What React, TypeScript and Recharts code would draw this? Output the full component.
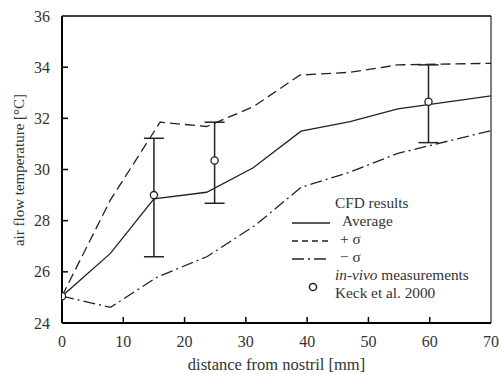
import React from "react";
import { ComposedChart, Line, Scatter, XAxis, YAxis, ErrorBar, ReferenceLine } from "recharts";

const avgX = [0, 7.9, 15, 23.6, 31.2, 39, 47, 54.8, 70];
const avgY = [25.05, 26.72, 28.85, 29.11, 30.07, 31.5, 31.87, 32.37, 32.88];

const upX = [0, 7.9, 16, 23.6, 31.2, 38.8, 47, 54.8, 70];
const upY = [25.05, 28.81, 31.85, 31.68, 32.45, 33.69, 33.8, 34.09, 34.15];

const loX = [0, 7.9, 15.5, 23.7, 31.6, 39, 47, 54.8, 70];
const loY = [25.05, 24.61, 25.79, 26.6, 27.83, 29.3, 29.9, 30.63, 31.52];

const measX = [0, 15, 24.9, 59.8];
const measY = [25.05, 29.0, 30.35, 32.65];
const measLow = [25.05, 26.59, 28.68, 31.05];
const measHigh = [25.05, 31.22, 31.85, 34.09];

const xTicks = [0, 10, 20, 30, 40, 50, 60, 70];
const yTicks = [24, 26, 28, 30, 32, 34, 36];

const FONT = '"Liberation Serif", "Times New Roman", Times, "DejaVu Serif", serif';
const INK = "#222";

const toPts = (xs: number[], ys: number[]) => xs.map((x, i) => ({ x, y: ys[i] }));
const avgData = toPts(avgX, avgY);
const upData = toPts(upX, upY);
const loData = toPts(loX, loY);
const measData = measX.map((x, i) => ({ x, y: measY[i], err: [measY[i] - measLow[i], measHigh[i] - measY[i]] }));
const measOrigin = measData.filter((d) => d.err[0] === 0 && d.err[1] === 0);
const measBars = measData.filter((d) => !(d.err[0] === 0 && d.err[1] === 0));

const txt = (size: number) => ({ fontFamily: FONT, fontSize: size, fill: "#333" });

const XTick = (props: any) => {
  const { x, y, payload } = props;
  const v = payload.value;
  const inner = v !== 0 && v !== 70;
  return (
    <g>
      {inner && <line x1={x} x2={x} y1={y} y2={y - 6} stroke="#000" strokeWidth={1.5} />}
      <text x={x} y={y + 24} textAnchor="middle" style={txt(16)}>
        {v}
      </text>
    </g>
  );
};

const YTick = (props: any) => {
  const { x, y, payload } = props;
  const v = payload.value;
  const inner = v !== 24 && v !== 36;
  return (
    <g>
      {inner && <line x1={x} x2={x + 6} y1={y} y2={y} stroke="#000" strokeWidth={1.5} />}
      <text x={x - 12} y={y + 5.5} textAnchor="end" style={txt(16)}>
        {v}
      </text>
    </g>
  );
};

const Circle = (props: any) => {
  const { cx, cy } = props;
  return <circle cx={cx} cy={cy} r={3.6} fill="#fff" stroke={INK} strokeWidth={1.3} />;
};

const YLabel = (props: any) => {
  const vb = props.viewBox || {};
  const cx = 19;
  const cy = 170;
  return (
    <text x={cx} y={cy} transform={`rotate(-90 ${cx} ${cy})`} textAnchor="middle" dominantBaseline="central" style={txt(15)}>
      air flow temperature [°C]
    </text>
  );
};

const XLabel = (props: any) => {
  const vb = props.viewBox || {};
  return (
    <text x={vb.x + vb.width / 2} y={370} textAnchor="middle" style={txt(16.5)}>
      distance from nostril [mm]
    </text>
  );
};

export default function App() {
  const lt = txt(15.3);
  return (
    <div style={{ position: "absolute", left: 0, top: 0, width: 499, height: 374, background: "#fff", fontFamily: FONT }}>
      <ComposedChart width={499} height={374} margin={{ top: 16, right: 8, bottom: 21, left: 12 }}>
        <XAxis
          type="number"
          dataKey="x"
          domain={[0, 70]}
          ticks={xTicks}
          height={30}
          tickSize={0}
          tickMargin={0}
          tickLine={false}
          axisLine={{ stroke: "#000", strokeWidth: 2 }}
          tick={<XTick />}
          label={<XLabel />}
          allowDataOverflow
        />
        <YAxis
          type="number"
          dataKey="y"
          domain={[24, 36]}
          ticks={yTicks}
          width={50}
          tickSize={0}
          tickMargin={0}
          tickLine={false}
          axisLine={{ stroke: "#000", strokeWidth: 2 }}
          tick={<YTick />}
          label={<YLabel />}
          allowDataOverflow
        />
        <ReferenceLine y={36} stroke="#000" strokeWidth={1.5} ifOverflow="extendDomain" />
        <ReferenceLine x={70} stroke="#000" strokeWidth={1} ifOverflow="extendDomain" />
        <Line data={upData} dataKey="y" type="linear" stroke={INK} strokeWidth={1.3} strokeDasharray="10 5" dot={false} isAnimationActive={false} />
        <Line data={loData} dataKey="y" type="linear" stroke={INK} strokeWidth={1.3} strokeDasharray="12 4 2 4" dot={false} isAnimationActive={false} />
        <Line data={avgData} dataKey="y" type="linear" stroke={INK} strokeWidth={1.3} dot={false} isAnimationActive={false} />
        <Scatter data={measBars} dataKey="y" shape={<Circle />} isAnimationActive={false}>
          <ErrorBar dataKey="err" direction="y" width={10} stroke={INK} strokeWidth={1.5} isAnimationActive={false} />
        </Scatter>
        <Scatter data={measOrigin} dataKey="y" shape={<Circle />} isAnimationActive={false} />
      </ComposedChart>
      <svg width={499} height={374} style={{ position: "absolute", left: 0, top: 0, pointerEvents: "none" }}>
        <text x={335} y={208} style={lt}>CFD results</text>
        <line x1={292} x2={330} y1={223} y2={223} stroke={INK} strokeWidth={1.3} />
        <text x={342} y={226} style={lt}>Average</text>
        <line x1={292} x2={330} y1={241} y2={241} stroke={INK} strokeWidth={1.3} strokeDasharray="6 4" />
        <text x={340} y={244} style={lt}>+ σ</text>
        <line x1={292} x2={330} y1={259} y2={259} stroke={INK} strokeWidth={1.3} strokeDasharray="12 4 2 4" />
        <text x={340} y={262} style={lt}>− σ</text>
        <text x={335} y={280} style={lt}>
          <tspan fontStyle="italic">in-vivo</tspan> measurements
        </text>
        <circle cx={313} cy={287} r={3.6} fill="#fff" stroke={INK} strokeWidth={1.5} />
        <text x={335} y={298} style={lt}>Keck  et al. 2000</text>
      </svg>
    </div>
  );
}
